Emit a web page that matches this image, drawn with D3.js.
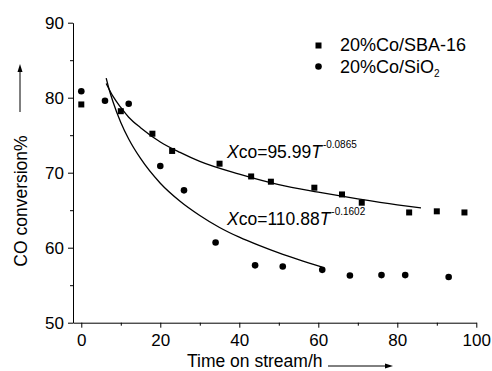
<!DOCTYPE html>
<html>
<head>
<meta charset="utf-8">
<script src="https://cdn.jsdelivr.net/npm/d3@7"></script>
<style>
    body { margin: 0; background: #fff; }
    text { font-family: "Liberation Sans", Arial, sans-serif; fill: #000; }
</style>
</head>
<body>
<div id="chart"></div>
<script>
// measured points
const sbaTime = [0, 10, 18, 23, 35, 43, 48, 59, 66, 71, 83, 90, 97];
const sbaConv = [79.1, 78.2, 75.2, 72.9, 71.2, 69.5, 68.8, 68.0, 67.1, 66.0, 64.7, 64.85, 64.7];
const sioTime = [0, 6, 12, 20, 26, 34, 44, 51, 61, 68, 76, 82, 93];
const sioConv = [80.85, 79.6, 79.2, 70.9, 67.65, 60.7, 57.65, 57.5, 57.05, 56.3, 56.35, 56.35, 56.1];

// fitted curves, points
const sbaFitTime = [6.3, 8, 10, 12, 15, 20, 25, 30, 40, 50, 60, 70, 80, 86];
const sbaFitConv = [81.9, 80.2, 78.7, 77.4, 76.0, 74.1, 72.7, 71.5, 69.8, 68.4, 67.4, 66.5, 65.7, 65.3];
const sioFitTime = [6.3, 7, 8, 10, 12, 15, 20, 25, 30, 35, 40, 45, 50, 55, 61];
const sioFitConv = [82.6, 81.2, 79.5, 76.7, 74.5, 71.9, 68.6, 66.2, 64.3, 62.7, 61.4, 60.3, 59.3, 58.4, 57.4];

const xTicks = [0, 20, 40, 60, 80, 100];
const xMinor = [10, 30, 50, 70, 90];
const yTicks = [50, 60, 70, 80, 90];
const yMinor = [55, 65, 75, 85];

const width = 492, height = 371;

const svg = d3.select("#chart").append("svg")
    .attr("width", width)
    .attr("height", height);

// scales
const x = d3.scaleLinear().domain([-2.1, 100]).range([73, 476.3]);
const y = d3.scaleLinear().domain([50, 90]).range([322.7, 22.7]);

// x axis
svg.append("g")
    .attr("transform", "translate(0," + y(50) + ")")
    .call(d3.axisBottom(x).tickValues(xTicks).tickSize(5).tickPadding(6).tickSizeOuter(0))
    .call(g => g.selectAll("text").style("font-size", "17px"));
svg.append("g")
    .attr("transform", "translate(0," + y(50) + ")")
    .call(d3.axisBottom(x).tickValues(xMinor).tickSize(3).tickFormat("").tickSizeOuter(0))
    .call(g => g.select(".domain").remove());

// y axis
svg.append("g")
    .attr("transform", "translate(" + x(-2.1) + ",0)")
    .call(d3.axisLeft(y).tickValues(yTicks).tickSize(5).tickPadding(4).tickSizeOuter(0))
    .call(g => g.selectAll("text").style("font-size", "17px"));
svg.append("g")
    .attr("transform", "translate(" + x(-2.1) + ",0)")
    .call(d3.axisLeft(y).tickValues(yMinor).tickSize(3).tickFormat("").tickSizeOuter(0))
    .call(g => g.select(".domain").remove());

svg.selectAll(".domain, .tick line").attr("stroke", "#000").attr("stroke-width", 1);

// fit lines
const line = d3.line()
    .x(d => x(d[0]))
    .y(d => y(d[1]))
    .curve(d3.curveMonotoneX);

svg.append("path")
    .datum(d3.zip(sbaFitTime, sbaFitConv))
    .attr("fill", "none")
    .attr("stroke", "#000")
    .attr("stroke-width", 1.3)
    .attr("d", line);
svg.append("path")
    .datum(d3.zip(sioFitTime, sioFitConv))
    .attr("fill", "none")
    .attr("stroke", "#000")
    .attr("stroke-width", 1.3)
    .attr("d", line);

// markers
svg.append("g")
    .selectAll("rect")
    .data(d3.zip(sbaTime, sbaConv))
    .join("rect")
    .attr("x", d => x(d[0]) - 3)
    .attr("y", d => y(d[1]) - 3)
    .attr("width", 6)
    .attr("height", 6)
    .attr("fill", "#000");

svg.append("g")
    .selectAll("circle")
    .data(d3.zip(sioTime, sioConv))
    .join("circle")
    .attr("cx", d => x(d[0]))
    .attr("cy", d => y(d[1]))
    .attr("r", 3.3)
    .attr("fill", "#000");

// legend
svg.append("rect").attr("x", 315.5).attr("y", 42.5).attr("width", 6).attr("height", 6).attr("fill", "#000");
svg.append("text").attr("x", 340).attr("y", 50.5).style("font-size", "18px").text("20%Co/SBA-16");
svg.append("circle").attr("cx", 318.5).attr("cy", 66.5).attr("r", 3.3).attr("fill", "#000");
let t2 = svg.append("text").attr("x", 340).attr("y", 72.5).style("font-size", "18px");
t2.append("tspan").text("20%Co/SiO");
t2.append("tspan").attr("dy", 4).style("font-size", "10px").text("2");

// fit equations
function equation(px, py, coef, expo) {
    let t = svg.append("text").attr("x", px).attr("y", py).style("font-size", "17.5px");
    t.append("tspan").style("font-style", "italic").text("X");
    t.append("tspan").text("co=" + coef);
    t.append("tspan").style("font-style", "italic").text("T");
    t.append("tspan").attr("dy", -10).attr("dx", 1).style("font-size", "10px").text(expo);
}
equation(227, 158, "95.99", "-0.0865");
equation(227, 225, "110.88", "-0.1602");

// axis titles
svg.append("text")
    .attr("transform", "translate(27,201) rotate(-90)")
    .attr("text-anchor", "middle")
    .style("font-size", "17.5px")
    .text("CO conversion%");
svg.append("text")
    .attr("x", 187)
    .attr("y", 367)
    .style("font-size", "17.5px")
    .text("Time on stream/h");

// arrows
svg.append("line").attr("x1", 20).attr("y1", 112).attr("x2", 20).attr("y2", 70).attr("stroke", "#000");
svg.append("path").attr("d", "M20,64 L17.5,72 L22.5,72 Z").attr("fill", "#000");
svg.append("line").attr("x1", 328).attr("y1", 366).attr("x2", 386).attr("y2", 366).attr("stroke", "#000");
svg.append("path").attr("d", "M393,366 L385,363.5 L385,368.5 Z").attr("fill", "#000");
</script>
</body>
</html>
